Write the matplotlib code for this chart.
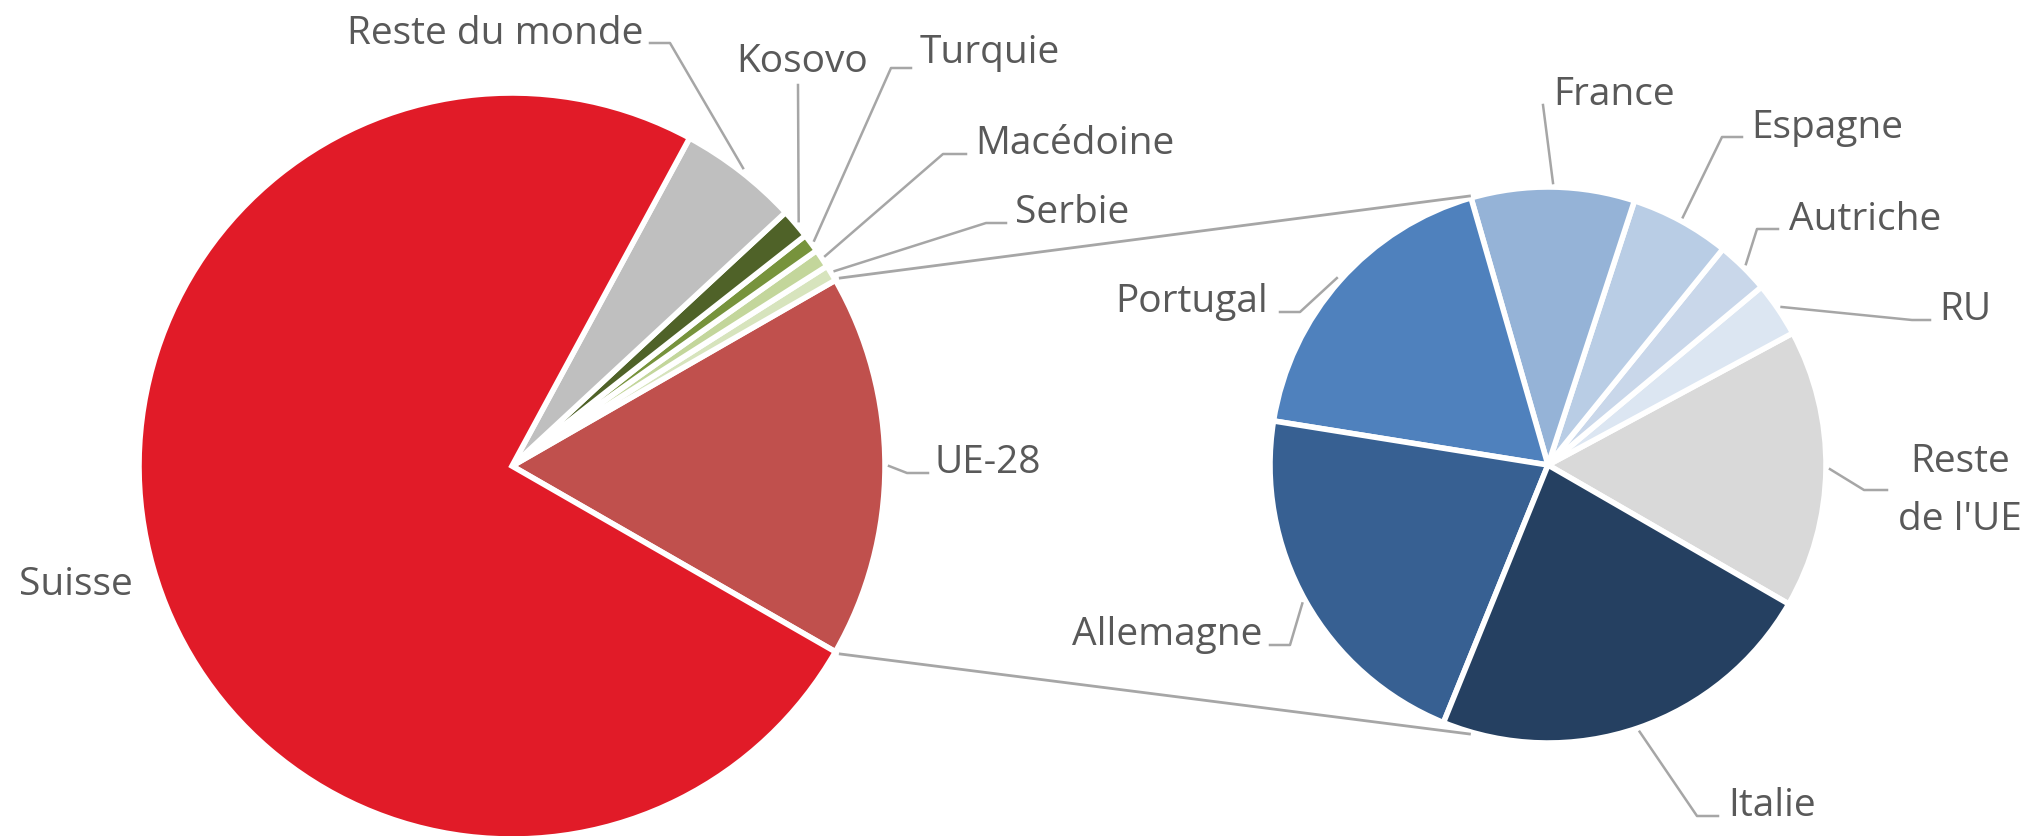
import numpy as np
import matplotlib
matplotlib.use("Agg")
import matplotlib.pyplot as plt

# ---------------- data ----------------
# main pie (shares of total, %), drawn counter-clockwise starting with UE-28
main_labels = ["UE-28", "Serbie", "Macédoine", "Turquie", "Kosovo", "Reste du monde", "Suisse"]
main_values = [16.6, 0.7, 0.8, 0.8, 1.3, 5.2, 74.6]
main_colors = ["#C0504D", "#D7E4BD", "#C3D69B", "#77933C", "#4F6228", "#BFBFBF", "#E11B28"]

# secondary pie: breakdown of UE-28 (%), counter-clockwise
sub_labels = ["Reste de l'UE", "RU", "Autriche", "Espagne", "France", "Portugal", "Allemagne", "Italie"]
sub_values = [16.2, 3.2, 3.1, 5.8, 9.5, 18.0, 21.4, 22.8]
sub_colors = ["#D9D9D9", "#DCE6F2", "#C9D7EA", "#B9CDE5", "#95B3D7", "#4F81BD", "#376092", "#254061"]

# ---------------- layout ----------------
W, H = 2030, 836
DPI = 100
TEXT_COLOR = "#595959"
LINE_COLOR = "#A6A6A6"
FONT = ["Open Sans", "DejaVu Sans"]
FS = 28

MAIN_C = (512, 466)      # image coords
MAIN_R = 373
SUB_C = (1548, 465)
SUB_R = 278
SUB_START = -30.0
CONNECT_ANGLE = 106.0

def Y(y):
    return H - y

fig = plt.figure(figsize=(W / DPI, H / DPI), dpi=DPI)
ax = fig.add_axes([0, 0, 1, 1])

wp = dict(edgecolor="white", linewidth=4.0)
total_main = sum(main_values)
main_start = -180.0 * main_values[0] / total_main
main_wedges, _ = ax.pie(main_values, colors=main_colors, startangle=main_start,
                        counterclock=True, center=(MAIN_C[0], Y(MAIN_C[1])),
                        radius=MAIN_R, wedgeprops=wp)
sub_wedges, _ = ax.pie(sub_values, colors=sub_colors, startangle=SUB_START,
                       counterclock=True, center=(SUB_C[0], Y(SUB_C[1])),
                       radius=SUB_R, wedgeprops=wp)

ax.set_xlim(0, W)
ax.set_ylim(0, H)
ax.set_aspect("equal")
ax.axis("off")

def pt_on(center, r, ang):
    a = np.deg2rad(ang)
    return center[0] + r * np.cos(a), Y(center[1]) + r * np.sin(a)

# connector lines between the UE-28 slice and the secondary pie
ue = main_wedges[0]
for edge_ang, sub_ang in [(ue.theta2, CONNECT_ANGLE), (ue.theta1, -CONNECT_ANGLE)]:
    x0, y0 = pt_on(MAIN_C, MAIN_R + 4, edge_ang)
    x1, y1 = pt_on(SUB_C, SUB_R + 2, sub_ang)
    ax.plot([x0, x1], [y0, y1], color=LINE_COLOR, lw=2.0, solid_capstyle="butt", zorder=1)

# label layout: text anchor (image coords), ha, leader elbow points (image coords)
main_layout = {
    "Suisse": ((19, 595), "left", None),
    "UE-28": ((935, 473), "left", [(907, 473), (928, 473)]),
    "Reste du monde": ((643, 44), "right", [(670, 43), (650, 43)]),
    "Kosovo": ((802, 72), "center", [(798, 85)]),
    "Turquie": ((920, 63), "left", [(891, 68), (911, 68)]),
    "Macédoine": ((975, 154), "left", [(943, 154), (966, 154)]),
    "Serbie": ((1015, 223), "left", [(986, 223), (1006, 223)]),
}
sub_layout = {
    "France": ((1553, 105), "left", [(1543, 105)]),
    "Espagne": ((1751, 138), "left", [(1722, 137), (1742, 137)]),
    "Autriche": ((1789, 230), "left", [(1757, 229), (1778, 229)]),
    "RU": ((1939, 320), "left", [(1912, 320), (1930, 320)]),
    "Reste de l'UE": ((1960, 472), "center", [(1864, 490), (1887, 490)]),
    "Italie": ((1728, 816), "left", [(1697, 816), (1718, 816)]),
    "Allemagne": ((1262, 645), "right", [(1290, 645), (1270, 645)]),
    "Portugal": ((1268, 312), "right", [(1300, 312), (1280, 312)]),
}
wrap = {"Reste de l'UE": ["Reste", "de l'UE"]}

def draw_labels(wedges, labels, center, radius, layout):
    for w, lab in zip(wedges, labels):
        (tx, ty), ha, elbow = layout[lab]
        if elbow:
            mid = 0.5 * (w.theta1 + w.theta2)
            ax0, ay0 = pt_on(center, radius + 4, mid)
            xs = [ax0] + [p[0] for p in elbow]
            ys = [ay0] + [Y(p[1]) for p in elbow]
            ax.plot(xs, ys, color=LINE_COLOR, lw=1.8, zorder=1)
        lines = wrap.get(lab, [lab])
        for i, line in enumerate(lines):
            ax.text(tx, Y(ty + i * 58), line, ha=ha, va="baseline",
                    fontsize=FS, color=TEXT_COLOR, family=FONT)

draw_labels(main_wedges, main_labels, MAIN_C, MAIN_R, main_layout)
draw_labels(sub_wedges, sub_labels, SUB_C, SUB_R, sub_layout)

fig.savefig("out.png", dpi=DPI, facecolor="white")
